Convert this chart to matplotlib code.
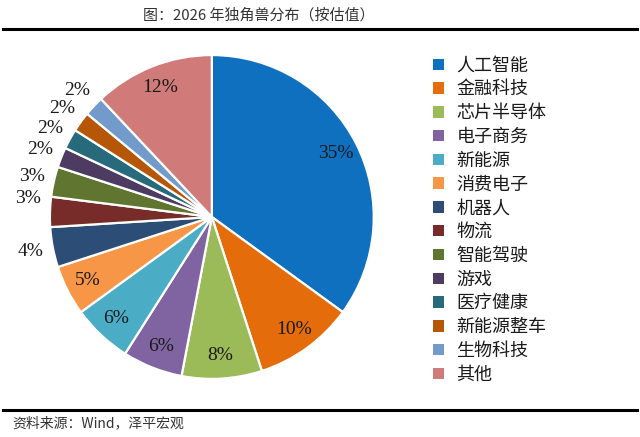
import numpy as np
import matplotlib
matplotlib.use("Agg")
import matplotlib.pyplot as plt
from matplotlib.lines import Line2D

plt.rcParams['font.family'] = ['Noto Sans CJK SC', 'DejaVu Sans']

# data
categories = ["人工智能", "金融科技", "芯片半导体", "电子商务", "新能源", "消费电子", "机器人",
              "物流", "智能驾驶", "游戏", "医疗健康", "新能源整车", "生物科技", "其他"]
shares = [35, 10, 8, 6, 6, 5, 4, 3, 3, 2, 2, 2, 2, 12]
colors = ["#0F70C0", "#E46C0A", "#9BBB59", "#8064A2", "#4BACC6", "#F79646", "#2C4D75",
          "#772C2A", "#5F7530", "#4D3B62", "#276A7C", "#B65708", "#729ACA", "#D07A7A"]
outside = [False, False, False, False, False, False, True,
           True, True, True, True, True, True, False]
# small angle nudges (degrees) so the crowded outside labels don't touch
nudge = [0, 0, 0, 0, 0, 0, 0, -4, 0, 0, 0, 0, 0, 0]

fig = plt.figure(figsize=(6.4, 4.37), dpi=100)
ax = fig.add_axes([0.078, 0.133, 0.506, 0.741])

wedges, _ = ax.pie(shares, colors=colors, startangle=90, counterclock=False,
                   radius=1.0, wedgeprops=dict(edgecolor="white", linewidth=1.6))
ax.set_xlim(-1, 1)
ax.set_ylim(-1, 1)
ax.set_aspect("equal")
ax.axis("off")

# percentage labels at the middle of each wedge
for w, s, out, dn in zip(wedges, shares, outside, nudge):
    mid = np.deg2rad((w.theta1 + w.theta2) / 2 + dn)
    r = 1.14 if out else 0.86
    ax.text(r * np.cos(mid), r * np.sin(mid), "%d%%" % s, ha="center", va="center",
            fontsize=14, family="Liberation Serif", color="#1a1a1a", clip_on=False)

# legend
handles = [plt.Rectangle((0, 0), 1, 1, facecolor=c, edgecolor="none") for c in colors]
leg = fig.legend(handles, categories, loc="upper left", bbox_to_anchor=(0.665, 0.887),
                 frameon=False, fontsize=13, handlelength=0.6, handleheight=0.6,
                 handletextpad=0.7, labelspacing=0.32, borderaxespad=0)
for t in leg.get_texts():
    t.set_color("#1a1a1a")

# title and rules
fig.text(0.405, 0.964, "图：2026 年独角兽分布（按估值）", ha="center", va="center",
         fontsize=10.8, color="#333333")
fig.add_artist(Line2D([0.005, 0.995], [0.934, 0.934], color="black", linewidth=2.2))
fig.add_artist(Line2D([0.005, 0.995], [0.062, 0.062], color="black", linewidth=2.2))
fig.text(0.02, 0.031, "资料来源：Wind，泽平宏观", ha="left", va="center",
         fontsize=10, style="italic", color="#333333")

plt.savefig("out.png", dpi=100)
